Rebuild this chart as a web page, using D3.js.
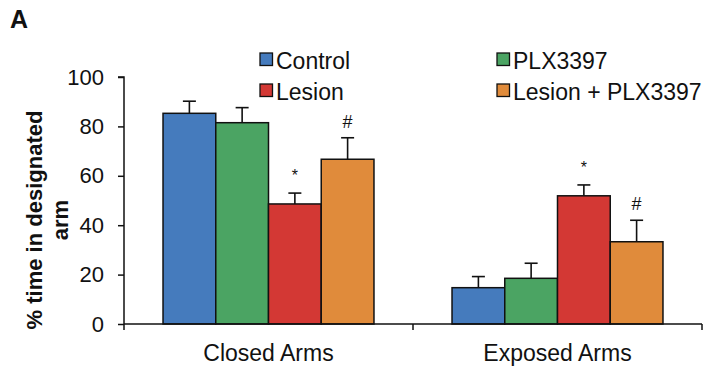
<!DOCTYPE html>
<html>
<head>
<meta charset="utf-8">
<script src="https://cdn.jsdelivr.net/npm/d3@7"></script>
<style>
  html, body { margin: 0; padding: 0; background: #fff; }
  svg { display: block; font-family: "Liberation Sans", Arial, sans-serif; }
</style>
</head>
<body>
<svg id="chart" width="705" height="371"></svg>
<script>
// Data
const categories = ["Closed Arms", "Exposed Arms"];
const groups = ["Control", "PLX3397", "Lesion", "Lesion + PLX3397"];
const colors = ["#457bbd", "#4ba463", "#d33834", "#e08b3b"];
const means = {
  "Control":          [85.3, 14.7],
  "PLX3397":          [81.5, 18.5],
  "Lesion":           [48.6, 51.9],
  "Lesion + PLX3397": [66.7, 33.3]
};
const sems = {
  "Control":          [4.9, 4.5],
  "PLX3397":          [6.1, 6.1],
  "Lesion":           [4.4, 4.4],
  "Lesion + PLX3397": [8.7, 8.7]
};
const marks = {
  "Control":          ["", ""],
  "PLX3397":          ["", ""],
  "Lesion":           ["*", "*"],
  "Lesion + PLX3397": ["#", "#"]
};
const yTicks = [0, 20, 40, 60, 80, 100];

const svg = d3.select("#chart");

const x0 = d3.scaleBand().domain(categories).range([124, 702]).paddingInner(0).paddingOuter(0);
const x1 = d3.scaleBand().domain(groups).range([0, x0.bandwidth()]).paddingInner(0).paddingOuter(0.74);
const y = d3.scaleLinear().domain([0, 100]).range([324, 77]);
const color = d3.scaleOrdinal().domain(groups).range(colors);

// Rows of bar data
const rows = [];
categories.forEach((c, ci) => {
  groups.forEach(g => {
    rows.push({ cat: c, group: g, value: means[g][ci], err: sems[g][ci], mark: marks[g][ci] });
  });
});

// Error bars (upper only), drawn beneath bars
const eb = svg.append("g").attr("stroke", "#111").attr("stroke-width", 1.6).attr("fill", "none");
rows.forEach(d => {
  const cx = x0(d.cat) + x1(d.group) + x1.bandwidth() / 2;
  eb.append("line").attr("x1", cx).attr("x2", cx).attr("y1", y(d.value)).attr("y2", y(d.value + d.err));
  eb.append("line").attr("x1", cx - 6.5).attr("x2", cx + 6.5).attr("y1", y(d.value + d.err)).attr("y2", y(d.value + d.err));
});

// Bars
svg.append("g").selectAll("rect").data(rows).join("rect")
  .attr("x", d => x0(d.cat) + x1(d.group))
  .attr("y", d => y(d.value))
  .attr("width", x1.bandwidth())
  .attr("height", d => y(0) - y(d.value))
  .attr("fill", d => color(d.group))
  .attr("stroke", "#111")
  .attr("stroke-width", 1.5);

// Significance marks
svg.append("g").selectAll("text").data(rows.filter(d => d.mark)).join("text")
  .attr("x", d => x0(d.cat) + x1(d.group) + x1.bandwidth() / 2)
  .attr("y", d => y(d.value + d.err) - (d.mark === "*" ? 12 : 10))
  .attr("text-anchor", "middle")
  .attr("font-size", d => d.mark === "*" ? 16 : 18)
  .attr("fill", "#111")
  .text(d => d.mark);

// Y axis
const yAxis = svg.append("g").attr("transform", "translate(124,0)")
  .call(d3.axisLeft(y).tickValues(yTicks).tickSize(6).tickPadding(14));
yAxis.select(".domain").attr("stroke", "#111").attr("stroke-width", 1.5).attr("d", `M-6,${y(100)}H0V${y(0)}`);
yAxis.selectAll(".tick line").attr("stroke", "#111").attr("stroke-width", 1.5);
yAxis.selectAll(".tick text").attr("font-size", 22).attr("fill", "#111")
  .attr("font-family", "Liberation Sans, Arial, sans-serif");

// X axis with ticks at category boundaries
const xg = svg.append("g");
xg.append("line").attr("x1", 124).attr("x2", 702).attr("y1", y(0)).attr("y2", y(0))
  .attr("stroke", "#111").attr("stroke-width", 1.5);
const bounds = categories.map(c => x0(c)).concat([x0(categories[categories.length - 1]) + x0.bandwidth()]);
xg.selectAll("line.tk").data(bounds).join("line").attr("class", "tk")
  .attr("x1", d => d).attr("x2", d => d).attr("y1", y(0)).attr("y2", y(0) + 6)
  .attr("stroke", "#111").attr("stroke-width", 1.5);
xg.selectAll("text").data(categories).join("text")
  .attr("x", d => x0(d) + x0.bandwidth() / 2)
  .attr("y", 361)
  .attr("text-anchor", "middle")
  .attr("font-size", 23)
  .attr("fill", "#111")
  .text(d => d);

// Y axis title
const yt = svg.append("text")
  .attr("transform", "translate(0,220) rotate(-90)")
  .attr("text-anchor", "middle")
  .attr("font-size", 22)
  .attr("font-weight", "bold")
  .attr("fill", "#111");
yt.append("tspan").attr("x", 0).attr("y", 42).text("% time in designated");
yt.append("tspan").attr("x", 0).attr("y", 68).text("arm");

// Panel letter
svg.append("text").attr("x", 10).attr("y", 28)
  .attr("font-size", 25).attr("font-weight", "bold").attr("fill", "#111").text("A");

// Legend
const legendPos = [[260, 53], [497, 53], [260, 84], [497, 84]];
const lg = svg.append("g").selectAll("g").data(groups).join("g")
  .attr("transform", (d, i) => `translate(${legendPos[i][0]},${legendPos[i][1]})`);
lg.append("rect").attr("width", 12.5).attr("height", 12.5)
  .attr("fill", d => color(d)).attr("stroke", "#111").attr("stroke-width", 1.3);
lg.append("text").attr("x", 16).attr("y", 15.5)
  .attr("font-size", 23).attr("fill", "#111").text(d => d);
</script>
</body>
</html>
